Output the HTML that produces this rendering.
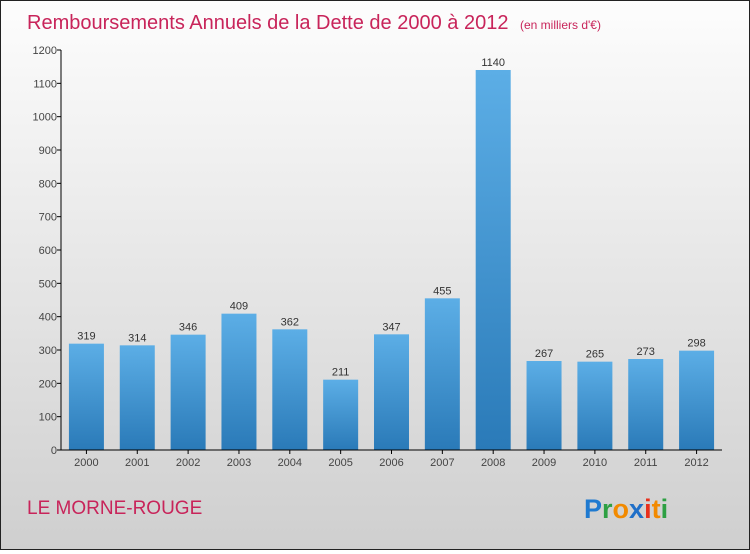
<!DOCTYPE html>
<html><head><meta charset="utf-8"><style>
body{margin:0;width:750px;height:550px;overflow:hidden;font-family:"Liberation Sans",sans-serif}
#wrap{position:absolute;left:0;top:0;width:748px;height:548px;border:1px solid #222;background:linear-gradient(#fdfdfd,#cfcfcf)}
</style></head><body>
<div id="wrap">
<svg width="748" height="548" id="svg">
<defs><linearGradient id="bg" x1="0" y1="0" x2="0" y2="1"><stop offset="0" stop-color="#5caee6"/><stop offset="1" stop-color="#2a7ab8"/></linearGradient></defs>
<text x="26" y="28" font-size="20" fill="#c8245a">Remboursements Annuels de la Dette de 2000 à 2012 <tspan font-size="12" dx="6">(en milliers d'€)</tspan></text>
<g id="plot"></g>
<text x="26" y="513" font-size="19" fill="#c8245a">LE MORNE-ROUGE</text>
<g font-size="27" font-weight="bold" font-family="Liberation Sans, sans-serif">
<text x="583" y="517"><tspan fill="#1f7ad0">P</tspan><tspan fill="#2ea043">r</tspan><tspan fill="#f28a00">o</tspan><tspan fill="#1f6fc8">x</tspan><tspan fill="#e8301c">i</tspan><tspan fill="#f28a00">t</tspan><tspan fill="#2ea043">i</tspan></text></g>
</svg></div>
<script>
const categories=["2000","2001","2002","2003","2004","2005","2006","2007","2008","2009","2010","2011","2012"];
const values=[319,314,346,409,362,211,347,455,1140,267,265,273,298];
const ticks=[0,100,200,300,400,500,600,700,800,900,1000,1100,1200];
const NS="http://www.w3.org/2000/svg";
const g=document.getElementById('plot');
const x0=60,x1=721,yTop=49,yBot=449,ymax=1200;
const bw=(x1-x0)/categories.length;
const y=v=>yBot-(v/ymax)*(yBot-yTop);
function mk(t,a){const e=document.createElementNS(NS,t);for(const k in a)e.setAttribute(k,a[k]);g.appendChild(e);return e;}
ticks.forEach(t=>{
 const l=mk('line',{x1:x0-4,x2:x0,y1:y(t),y2:y(t),stroke:'#000'});
 
 
 const tx=mk('text',{x:x0-4,y:y(t)+4,'text-anchor':'end','font-size':11,fill:'#444'});tx.textContent=t;
 
 
});
categories.forEach((c,i)=>{
 const cx=x0+bw*(i+0.5),v=values[i];
 const r=mk('rect',{x:cx-17.5,y:y(v),width:35,height:yBot-y(v),fill:'url(#bg)'});
 
 
 const vl=mk('text',{x:cx,y:y(v)-4,'text-anchor':'middle','font-size':11,fill:'#333'});vl.textContent=v;
 
 
 const tk=mk('line',{x1:cx,x2:cx,y1:yBot,y2:yBot+4,stroke:'#000'});
 
 
 const xl=mk('text',{x:cx,y:yBot+16,'text-anchor':'middle','font-size':11,fill:'#444'});xl.textContent=c;
 
 
});
const ya=mk('line',{x1:x0,x2:x0,y1:yTop,y2:yBot,stroke:'#000'});


const xa=mk('line',{x1:x0,x2:x1,y1:yBot,y2:yBot,stroke:'#000'});


</script>
</body></html>
